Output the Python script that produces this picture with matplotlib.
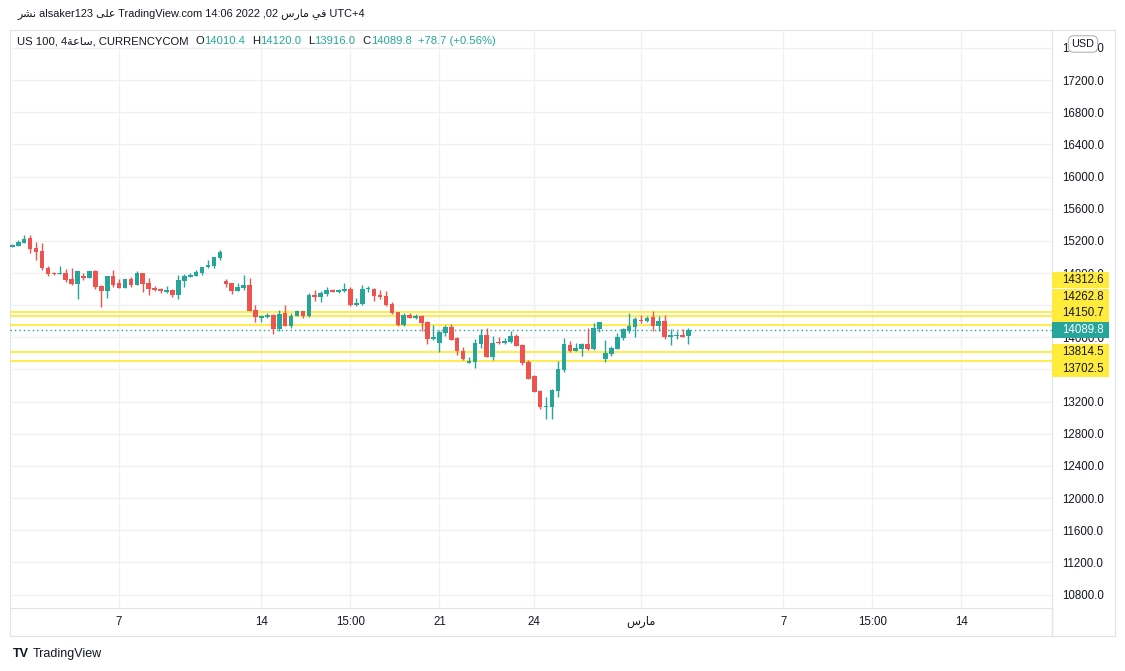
import matplotlib
matplotlib.use("Agg")
import matplotlib.pyplot as plt
from matplotlib.patches import Rectangle
from matplotlib.lines import Line2D

plt.rcParams['font.family'] = ['Liberation Sans', 'DejaVu Sans']

# Arabic words written in visual order with presentation forms
NASHR = "\uFEAE\uFEB8\uFEE7"        # نشر
ALA = "\uFEF0\uFEE0\uFECB"          # على
FI = "\uFEF2\uFED3"                 # في
MARS = "\uFEB1\uFEAD\uFE8E\uFEE3"   # مارس
SAA = "\uFE94\uFECB\uFE8E\uFEB3"    # ساعة

# 4h candles, US 100
opens = [15129, 15138, 15175, 15233, 15109, 15071, 14860, 14797, 14789, 14797,
         14723, 14665, 14764, 14739, 14822, 14636, 14577, 14760, 14673, 14615,
         14723, 14648, 14797, 14673, 14615, 14602, 14561, 14586, 14528, 14702,
         14752, 14764, 14802, 14872, 14889, 14988, 14698, 14673, 14577, 14615,
         14648, 14337, 14241, 14250, 14275, 14104, 14300, 14142, 14266, 14324,
         14262, 14524, 14503, 14536, 14586, 14565, 14577, 14598, 14399, 14411,
         14598, 14598, 14524, 14515, 14411, 14312, 14154, 14275, 14241, 14262,
         14187, 13980, 13930, 14055, 14125, 13992, 13826, 13681, 13694, 13918,
         14026, 13756, 13943, 13926, 13938, 14013, 13901, 13694, 13515, 13332,
         13133, 13133, 13332, 13594, 13901, 13830, 13855, 13913, 13855, 14104,
         13731, 13793, 13855, 13992, 14075, 14125, 14212, 14200, 14250, 14138,
         14200, 14005, 14017, 14026, 14010.4]
highs = [15163, 15208, 15271, 15271, 15188, 15171, 14885, 14810, 14885, 14847,
         14864, 14822, 14797, 14822, 14835, 14648, 14760, 14835, 14723, 14723,
         14756, 14822, 14797, 14735, 14636, 14615, 14636, 14598, 14773, 14785,
         14797, 14835, 14880, 14959, 15005, 15084, 14723, 14673, 14673, 14773,
         14735, 14399, 14283, 14308, 14295, 14337, 14399, 14300, 14337, 14324,
         14548, 14586, 14573, 14623, 14598, 14598, 14673, 14623, 14486, 14648,
         14636, 14611, 14586, 14573, 14436, 14312, 14300, 14300, 14287, 14275,
         14200, 14150, 14088, 14150, 14163, 14005, 13876, 13756, 13976, 14100,
         14113, 14013, 14001, 13988, 14075, 14038, 13913, 13714, 13528, 13345,
         13254, 13357, 13706, 13988, 13951, 13926, 13926, 14113, 14175, 14187,
         13963, 13889, 14051, 14113, 14300, 14250, 14275, 14262, 14324, 14262,
         14275, 14100, 14075, 14100, 14120.0]
lows = [15121, 15138, 15175, 15050, 14963, 14839, 14764, 14781, 14789, 14690,
        14652, 14478, 14714, 14739, 14602, 14378, 14490, 14631, 14615, 14615,
        14627, 14648, 14565, 14528, 14577, 14553, 14553, 14503, 14478, 14627,
        14752, 14764, 14777, 14864, 14864, 14968, 14627, 14536, 14577, 14590,
        14328, 14187, 14192, 14241, 14042, 14084, 14142, 14117, 14266, 14241,
        14250, 14453, 14440, 14515, 14561, 14548, 14565, 14391, 14391, 14399,
        14561, 14453, 14478, 14387, 14291, 14142, 14142, 14241, 14229, 14079,
        13918, 13967, 13818, 14017, 13967, 13781, 13718, 13681, 13619, 13868,
        13756, 13718, 13913, 13913, 13926, 13893, 13656, 13482, 13320, 13108,
        12983, 12983, 13258, 13569, 13818, 13830, 13768, 13843, 13843, 14067,
        13694, 13768, 13855, 13967, 14051, 14001, 14175, 14187, 14075, 14075,
        13976, 13901, 13976, 14005, 13916.0]
closes = [15150, 15183, 15229, 15100, 15063, 14864, 14789, 14785, 14797, 14714,
          14660, 14822, 14739, 14822, 14627, 14577, 14760, 14648, 14615, 14723,
          14652, 14797, 14665, 14602, 14590, 14577, 14586, 14528, 14710, 14760,
          14773, 14810, 14880, 14897, 14997, 15059, 14665, 14577, 14623, 14648,
          14328, 14254, 14262, 14279, 14104, 14287, 14142, 14262, 14324, 14262,
          14524, 14503, 14548, 14586, 14561, 14586, 14598, 14399, 14424, 14598,
          14611, 14515, 14499, 14399, 14304, 14154, 14275, 14241, 14262, 14179,
          13980, 14001, 14063, 14125, 13967, 13830, 13731, 13706, 13926, 14026,
          13756, 13926, 13930, 13951, 14013, 13893, 13681, 13482, 13320, 13133,
          13142, 13345, 13606, 13913, 13830, 13864, 13913, 13855, 14113, 14187,
          13806, 13864, 14001, 14100, 14138, 14225, 14200, 14246, 14138, 14200,
          14001, 14026, 14026, 14005, 14089.8]

levels = [14312.6, 14262.8, 14150.7, 13814.5, 13702.5]
last_price = 14089.8

time_ticks = [18, 42, 57, 72, 88, 106, 130, 145, 160]
time_labels = ["7", "14", "15:00", "21", "24", MARS, "7", "15:00", "14"]
price_ticks = list(range(10800, 17601, 400))

UP = "#26a69a"
DOWN = "#ef5350"
YELLOW = "#ffeb3b"
TXT = "#131722"
BORDER = "#e0e3eb"
GRID = "#f0f0f0"

W, H = 1125, 671
fig = plt.figure(figsize=(W / 100, H / 100), dpi=100)
fig.patch.set_facecolor("white")

# pane frame (chart + axis strips)
frame = fig.add_axes([10 / W, 1 - 636 / H, 1105 / W, 606 / H], zorder=-1)
frame.set_xticks([])
frame.set_yticks([])
for s in frame.spines.values():
    s.set_color(BORDER)

ax = fig.add_axes([10 / W, 1 - 608 / H, 1042 / W, 578 / H])
ax.set_facecolor("none")
ax.set_xlim(-0.39, 175.3)
ax.set_ylim(10633, 17823)

xs = list(range(len(opens)))
cols = [UP if c >= o else DOWN for o, c in zip(opens, closes)]
ax.vlines(xs, lows, highs, colors=cols, linewidth=1, zorder=3)
bottoms = [min(o, c) for o, c in zip(opens, closes)]
heights = [max(abs(c - o), 12) for o, c in zip(opens, closes)]
ax.bar(xs, heights, bottom=bottoms, width=0.78, color=cols, linewidth=0, zorder=4)

for lv in levels:
    ax.axhline(lv, color=YELLOW, linewidth=1.3, zorder=2)
ax.axhline(last_price, color=UP, linewidth=1, linestyle=(0, (1, 2.2)), zorder=2)

ax.set_xticks(time_ticks)
ax.set_xticklabels(time_labels)
ax.set_yticks(price_ticks)
ax.set_yticklabels([f"{p:.1f}" for p in price_ticks])
ax.yaxis.tick_right()
ax.tick_params(axis="y", length=0, pad=7, labelsize=8.3, labelcolor=TXT)
ax.tick_params(axis="x", length=0, pad=6, labelsize=8.3, labelcolor=TXT)
ax.grid(True, color=GRID, linewidth=1)
ax.set_axisbelow(True)
for name, s in ax.spines.items():
    s.set_color(BORDER)
    s.set_visible(name in ("right", "bottom"))

# separator continues down through the time strip
fig.add_artist(Line2D([1052 / W, 1052 / W], [1 - 636 / H, 1 - 608 / H],
                      color=BORDER, linewidth=1))

# price labels on the axis, pushed apart around the last price
gap = 207
ytr = ax.get_yaxis_transform()
above = sorted([lv for lv in levels if lv > last_price])
below = sorted([lv for lv in levels if lv < last_price], reverse=True)
label_pos = []
prev = last_price
for lv in above:
    prev = max(lv, prev + gap)
    label_pos.append((lv, prev, YELLOW, TXT))
prev = last_price
for lv in below:
    prev = min(lv, prev - gap)
    label_pos.append((lv, prev, YELLOW, TXT))
label_pos.append((last_price, last_price, UP, "white"))

box_w = 57 / 1042
box_h = 16.5 / 0.08025
for val, pos, fc, tc in label_pos:
    ax.add_patch(Rectangle((1.0, pos - box_h / 2), box_w, box_h, transform=ytr,
                           facecolor=fc, edgecolor="none", clip_on=False, zorder=6))
    ax.text(1.0 + 10 / 1042, pos, f"{val:.1f}", transform=ytr, ha="left", va="center",
            fontsize=8.3, color=tc, clip_on=False, zorder=7)

# currency badge
fig.text(1083 / W, 1 - 44 / H, "USD", ha="center", va="center", fontsize=7.8, color=TXT,
         bbox=dict(boxstyle="round,pad=0.3,rounding_size=0.5", fc="white", ec="#b2b5be", lw=0.8),
         zorder=10)

# header
fig.text(18 / W, 1 - 14 / H,
         NASHR + " alsaker123 " + ALA + " TradingView.com 14:06 2022 ,02 " + MARS + " " + FI + " UTC+4",
         ha="left", va="center", fontsize=7.9, color=TXT)

# legend row
t = fig.text(17 / W, 1 - 41 / H, "US 100, 4" + SAA + ", CURRENCYCOM",
             ha="left", va="center", fontsize=8.1, color=TXT)
parts = [("O", TXT, 5), ("14010.4", UP, 0), ("H", TXT, 5), ("14120.0", UP, 0),
         ("L", TXT, 5), ("13916.0", UP, 0), ("C", TXT, 5), ("14089.8", UP, 0),
         ("+78.7 (+0.56%)", UP, 5)]
for txt, c, dx in parts:
    t = ax.annotate(txt, xy=(1, 0.5), xycoords=t, xytext=(dx, 0), textcoords="offset points",
                    ha="left", va="center", fontsize=8.1, color=c, annotation_clip=False)

# logo
fig.text(13 / W, 1 - 654 / H, "TV", ha="left", va="center", fontsize=9,
         fontweight="heavy", color=TXT)
fig.text(33 / W, 1 - 654 / H, "TradingView", ha="left", va="center", fontsize=9, color=TXT)

fig.savefig("out.png", dpi=100, facecolor="white")
